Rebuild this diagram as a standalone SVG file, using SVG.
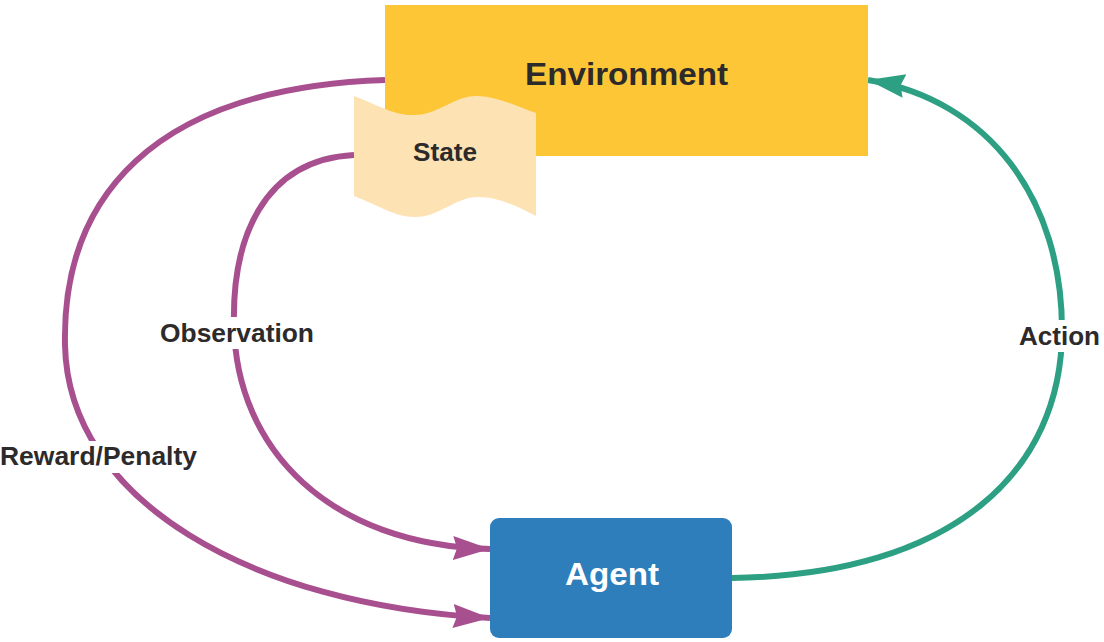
<svg xmlns="http://www.w3.org/2000/svg" width="1104" height="642" viewBox="0 0 1104 642">
<style>
.lbl{font-family:"Liberation Sans",Arial,sans-serif;font-weight:bold;fill:#2d2a2b;}
.purple{fill:none;stroke:#a8508f;stroke-width:6;}
.green{fill:none;stroke:#2da083;stroke-width:6;}
</style>
<defs>
<marker id="ap" markerUnits="userSpaceOnUse" markerWidth="40" markerHeight="26" refX="37" refY="12" orient="auto">
<path d="M0,0 L37,12 L0,24 L4,12 Z" fill="#a8508f"/>
</marker>
<marker id="ag" markerUnits="userSpaceOnUse" markerWidth="40" markerHeight="26" refX="37" refY="12" orient="auto">
<path d="M0,0 L37,12 L0,24 L4,12 Z" fill="#2da083"/>
</marker>
</defs>
<g id="connectors">
<path class="purple" d="M385,80 C150,88 62,200 65,345 C68,500 250,605 490,618" marker-end="url(#ap)"/>
<path class="purple" d="M354,155 C262,160 232,240 234,325 C236,450 330,545 490,549" marker-end="url(#ap)"/>
<path class="green" d="M732,578 C955,575 1062,470 1062,330 C1062,200 990,100 868,80" marker-end="url(#ag)"/>
<rect x="156" y="317" width="162" height="32" fill="#fff"/>
<text class="lbl" x="160" y="342" font-size="26" textLength="154" lengthAdjust="spacingAndGlyphs">Observation</text>
<rect x="1016" y="320" width="88" height="32" fill="#fff"/>
<text class="lbl" x="1019" y="345" font-size="26" textLength="81" lengthAdjust="spacingAndGlyphs">Action</text>
<rect x="0" y="441" width="200" height="32" fill="#fff"/>
<text class="lbl" x="0" y="465" font-size="25" textLength="197" lengthAdjust="spacingAndGlyphs">Reward/Penalty</text>
</g>
<g id="environment">
<rect x="385" y="5" width="483" height="151" fill="#fdc636"/>
<text class="lbl" x="525" y="85" font-size="32" textLength="203" lengthAdjust="spacingAndGlyphs">Environment</text>
</g>
<g id="state">
<path d="M354,96 C380,106 395,116 415,115 C440,114 455,95 478,96 C500,97 520,108 536,113 L536,216 C520,208 500,197 478,197 C455,197 440,217 415,217 C395,217 380,206 354,196 Z" fill="#fde2b4"/>
<text class="lbl" x="413" y="161" font-size="26" textLength="64" lengthAdjust="spacingAndGlyphs">State</text>
</g>
<g id="agent">
<rect x="490" y="518" width="242" height="120" rx="9" fill="#2e7ebb"/>
<text x="565" y="585" font-size="32" textLength="94" lengthAdjust="spacingAndGlyphs" font-family="Liberation Sans,Arial,sans-serif" font-weight="bold" fill="#fff">Agent</text>
</g>
</svg>
